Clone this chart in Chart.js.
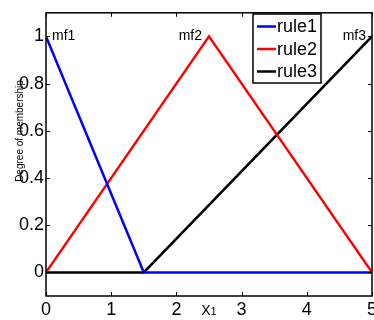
<!DOCTYPE html>
<html>
<head>
<meta charset="utf-8">
<script src="https://cdn.jsdelivr.net/npm/chart.js@4.4.0/dist/chart.umd.min.js"></script>
<style>
  html, body { margin: 0; padding: 0; background: #fff; overflow: hidden; }
  canvas { display: block; }
</style>
</head>
<body>
<canvas id="chart" width="380" height="320"></canvas>
<script>
// breakpoints of each membership function
const rule1X = [0, 1.5, 5];
const rule1Y = [1, 0, 0];
const rule2X = [0, 2.5, 5];
const rule2Y = [0, 1, 0];
const rule3X = [0, 1.5, 5];
const rule3Y = [0, 0, 1];

const seriesNames = ["rule1", "rule2", "rule3"];
const seriesColors = ["#0000ff", "#ff0000", "#000000"];

const xTicks = [0, 1, 2, 3, 4, 5];
const yTicks = [0, 0.2, 0.4, 0.6, 0.8, 1];

// text labels near the peaks
const mfNames = ["mf1", "mf2", "mf3"];
const mfX = [0, 2.5, 5];

const FONT = "Liberation Sans, Arial, Helvetica, sans-serif";

function toPoints(xs, ys) {
    return xs.map((x, i) => ({ x: x, y: ys[i] }));
}

// frame, inward ticks, labels and legend
const decorations = {
    id: "decorations",
    afterDatasetsDraw(chart) {
        const ctx = chart.ctx;
        const a = chart.chartArea;
        const xs = chart.scales.x;
        const ys = chart.scales.y;
        ctx.save();
        ctx.strokeStyle = "#000";
        ctx.lineWidth = 1.5;
        ctx.strokeRect(a.left, a.top, a.right - a.left, a.bottom - a.top);

        ctx.lineWidth = 1;
        ctx.beginPath();
        xTicks.forEach(v => {
            const px = Math.round(xs.getPixelForValue(v)) + 0.5;
            ctx.moveTo(px, a.bottom); ctx.lineTo(px, a.bottom - 4);
            ctx.moveTo(px, a.top); ctx.lineTo(px, a.top + 4);
        });
        yTicks.forEach(v => {
            const py = Math.round(ys.getPixelForValue(v)) + 0.5;
            ctx.moveTo(a.left, py); ctx.lineTo(a.left + 4, py);
            ctx.moveTo(a.right, py); ctx.lineTo(a.right - 4, py);
        });
        ctx.stroke();

        // mf labels
        ctx.fillStyle = "#000";
        ctx.font = "14px " + FONT;
        ctx.textBaseline = "alphabetic";
        const py1 = ys.getPixelForValue(1) + 4;
        ctx.textAlign = "left";
        ctx.fillText(mfNames[0], xs.getPixelForValue(mfX[0]) + 6, py1);
        ctx.textAlign = "right";
        ctx.fillText(mfNames[1], xs.getPixelForValue(mfX[1]) - 7, py1);
        ctx.fillText(mfNames[2], xs.getPixelForValue(mfX[2]) - 6, py1);

        // x axis label
        const cx = (a.left + a.right) / 2;
        ctx.textAlign = "left";
        ctx.font = "14px " + FONT;
        const wX = ctx.measureText("X").width;
        ctx.font = "11px " + FONT;
        const w1 = ctx.measureText("1").width;
        const sx = cx - (wX + w1) / 2;
        ctx.font = "14px " + FONT;
        ctx.fillText("X", sx, 315);
        ctx.font = "11px " + FONT;
        ctx.fillText("1", sx + wX, 315);

        // y axis label
        ctx.save();
        ctx.translate(20, 131);
        ctx.rotate(-Math.PI / 2);
        ctx.font = "10px " + FONT;
        ctx.textAlign = "center";
        ctx.textBaseline = "middle";
        ctx.fillText("Degree of membership", 0, 0);
        ctx.restore();

        // legend
        const lx = 253, ly = 14, lw = 68, lh = 69;
        ctx.fillStyle = "#fff";
        ctx.fillRect(lx, ly, lw, lh);
        ctx.strokeStyle = "#000";
        ctx.lineWidth = 1.5;
        ctx.strokeRect(lx, ly, lw, lh);
        ctx.font = "18px " + FONT;
        ctx.textAlign = "left";
        ctx.textBaseline = "middle";
        seriesNames.forEach((name, i) => {
            const yy = ly + 12.5 + i * 22.5;
            ctx.strokeStyle = seriesColors[i];
            ctx.lineWidth = 2.5;
            ctx.beginPath();
            ctx.moveTo(lx + 4, yy);
            ctx.lineTo(lx + 23, yy);
            ctx.stroke();
            ctx.fillStyle = "#000";
            ctx.fillText(name, lx + 24, yy + 1);
        });
        ctx.restore();
    }
};

const context = document.getElementById("chart").getContext("2d");
const chart = new Chart(context, {
    type: "line",
    data: {
        datasets: [
            { label: seriesNames[0], data: toPoints(rule1X, rule1Y), borderColor: seriesColors[0] },
            { label: seriesNames[1], data: toPoints(rule2X, rule2Y), borderColor: seriesColors[1] },
            { label: seriesNames[2], data: toPoints(rule3X, rule3Y), borderColor: seriesColors[2] }
        ]
    },
    options: {
        responsive: false,
        animation: false,
        devicePixelRatio: 1,
        layout: { padding: { top: 11, right: 5, left: 0, bottom: 0 } },
        elements: {
            line: { borderWidth: 2.5, tension: 0, fill: false },
            point: { radius: 0, hoverRadius: 0 }
        },
        plugins: {
            legend: { display: false },
            tooltip: { enabled: false }
        },
        scales: {
            x: {
                type: "linear",
                min: 0,
                max: 5,
                grid: { display: false, drawTicks: false },
                border: { display: false },
                afterBuildTicks: s => { s.ticks = xTicks.map(v => ({ value: v })); },
                afterFit: s => { s.height = 24; },
                ticks: {
                    color: "#000",
                    padding: 3,
                    maxRotation: 0,
                    font: { family: FONT, size: 18 }
                }
            },
            y: {
                type: "linear",
                min: -0.1,
                max: 1.1,
                grid: { display: false, drawTicks: false },
                border: { display: false },
                afterBuildTicks: s => { s.ticks = yTicks.map(v => ({ value: v })); },
                afterFit: s => { s.width = 46; },
                ticks: {
                    color: "#000",
                    padding: 2,
                    font: { family: FONT, size: 18 },
                    callback: v => String(Math.round(v * 10) / 10)
                }
            }
        }
    },
    plugins: [decorations]
});
</script>
</body>
</html>
